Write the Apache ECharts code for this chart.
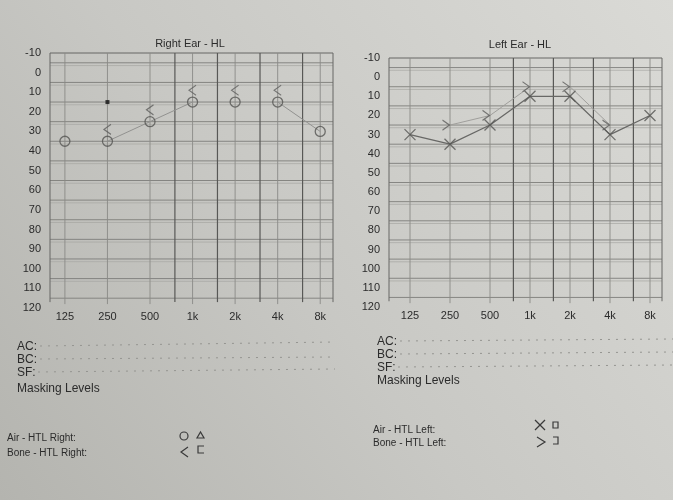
<!DOCTYPE html>
<html><head><meta charset="utf-8">
<script src="https://cdn.jsdelivr.net/npm/echarts@6/dist/echarts.min.js"></script>
<style>html,body{margin:0;padding:0;}#c{width:673px;height:500px;}</style>
</head><body><div id="c"></div>
<script>
// ---- data ----
const freqs = [125, 250, 500, 1000, 2000, 4000, 8000];
const freqLabels = ['125', '250', '500', '1k', '2k', '4k', '8k'];
const halfOctaveFreqs = [750, 1500, 3000, 6000];
const dbTicksMin = -10, dbTicksMax = 120, dbStep = 10;

const rightAir = [35, 35, 25, 15, 15, 15, 30];
const rightAirLinks = [[250, 500, 1000], [4000, 8000]];
const rightBoneFreqs = [250, 500, 1000, 2000, 4000];
const rightBone = [30, 20, 10, 10, 10];
const rightMarkFreqs = [250];
const rightMark = [15];

const leftAir = [30, 35, 25, 10, 10, 30, 20];
const leftAirLinks = [[125, 250, 500, 1000, 2000, 4000, 8000]];
const leftBoneFreqs = [250, 500, 1000, 2000, 4000];
const leftBone = [25, 20, 5, 5, 25];
const leftBoneLinks = [[250, 500, 1000], [2000, 4000]];

const titles = ['Right Ear - HL', 'Left Ear - HL'];

// ---- helpers ----
const oct = f => Math.log2(f / 125);
const pts = (fs, vs) => fs.map((f, i) => [oct(f), vs[i]]);
const FONT = '"Liberation Sans", Arial, sans-serif';
const INK = '#2b2b2b';

const layout = [
  { left: 50, top: 53, width: 283, height: 255, xmin: -0.35, xmax: 6.3 },
  { left: 389, top: 58, width: 273, height: 249, xmin: -0.525, xmax: 6.3 }
];

function gridLineData(L) {
  const d = [];
  d.push([L.xmin, -10, L.xmax, -10, 2]);
  for (let v = -5; v <= 115; v += 10) {
    d.push([L.xmin, v, L.xmax, v, 0]);
    if (v < 115) d.push([L.xmin, v + 1.4, L.xmax, v + 1.4, 3]);
  }
  d.push([L.xmin, -10, L.xmin, 117, 2]);
  d.push([L.xmax, -10, L.xmax, 117, 2]);
  freqs.forEach(f => d.push([oct(f), -10, oct(f), 118, 4]));
  halfOctaveFreqs.forEach(f => d.push([oct(f), -10, oct(f), 117, 1]));
  return d;
}
const lineStyles = [
  { stroke: '#7e7e7b', lineWidth: 0.9 },
  { stroke: '#585856', lineWidth: 1.2 },
  { stroke: '#666664', lineWidth: 1 },
  { stroke: '#a6a6a2', lineWidth: 0.7 },
  { stroke: '#8a8a87', lineWidth: 0.9 }
];

function gridSeries(i) {
  return {
    type: 'custom', xAxisIndex: i, yAxisIndex: i, silent: true, z: 1,
    data: gridLineData(layout[i]),
    renderItem: (params, api) => {
      const p1 = api.coord([api.value(0), api.value(1)]);
      const p2 = api.coord([api.value(2), api.value(3)]);
      return { type: 'line', shape: { x1: p1[0], y1: p1[1], x2: p2[0], y2: p2[1] },
        style: Object.assign({}, lineStyles[api.value(4)]) };
    }
  };
}

function linkSeries(i, fs, vs, links, color, width) {
  return links.map(seg => ({
    type: 'line', xAxisIndex: i, yAxisIndex: i, z: 3, symbol: 'none', silent: true,
    lineStyle: { color: color, width: width },
    data: seg.map(f => [oct(f), vs[fs.indexOf(f)]])
  }));
}

const X_PATH = 'path://M0,0L10,10M10,0L0,10';
const LT_PATH = 'path://M8,0L0,6L8,12';
const GT_PATH = 'path://M0,0L8,6L0,12';

const series = [
  gridSeries(0), gridSeries(1),
  ...linkSeries(0, freqs, rightAir, rightAirLinks, '#929290', 1),
  ...linkSeries(1, freqs, leftAir, leftAirLinks, '#686866', 1.3),
  ...linkSeries(1, leftBoneFreqs, leftBone, leftBoneLinks, '#a09f9c', 1),
  { type: 'scatter', xAxisIndex: 0, yAxisIndex: 0, z: 4, symbol: 'circle', symbolSize: 10,
    itemStyle: { color: 'rgba(0,0,0,0)', borderColor: '#555553', borderWidth: 1.3 },
    data: pts(freqs, rightAir) },
  { type: 'scatter', xAxisIndex: 0, yAxisIndex: 0, z: 4, symbol: LT_PATH, symbolSize: [7, 10],
    symbolOffset: [0, -2],
    itemStyle: { color: 'rgba(0,0,0,0)', borderColor: '#5e5e5c', borderWidth: 1.1 },
    data: pts(rightBoneFreqs, rightBone) },
  { type: 'scatter', xAxisIndex: 0, yAxisIndex: 0, z: 4, symbol: 'rect', symbolSize: 4,
    itemStyle: { color: '#111' }, data: pts(rightMarkFreqs, rightMark) },
  { type: 'scatter', xAxisIndex: 1, yAxisIndex: 1, z: 4, symbol: X_PATH, symbolSize: 11,
    itemStyle: { color: 'rgba(0,0,0,0)', borderColor: '#555553', borderWidth: 1.3 },
    data: pts(freqs, leftAir) },
  { type: 'scatter', xAxisIndex: 1, yAxisIndex: 1, z: 4, symbol: GT_PATH, symbolSize: [7, 10],
    symbolOffset: [-4, 0],
    itemStyle: { color: 'rgba(0,0,0,0)', borderColor: '#5e5e5c', borderWidth: 1.1 },
    data: pts(leftBoneFreqs, leftBone) }
];

const grids = layout.map(L => ({ left: L.left, top: L.top, width: L.width, height: L.height }));
const xAxes = layout.map((L, i) => ({
  type: 'value', gridIndex: i, min: L.xmin, max: L.xmax, splitNumber: 6,
  axisLine: { show: false }, axisTick: { show: false }, splitLine: { show: false },
  axisLabel: {
    margin: 3, color: INK, fontSize: 11, fontFamily: FONT,
    formatter: v => { const r = Math.round(v); return (Math.abs(v - r) < 1e-6 && r >= 0 && r < freqLabels.length) ? freqLabels[r] : ''; }
  }
}));
const yAxes = layout.map((L, i) => ({
  type: 'value', gridIndex: i, inverse: true, min: dbTicksMin, max: dbTicksMax, interval: dbStep,
  axisLine: { show: false }, axisTick: { show: false }, splitLine: { show: false },
  axisLabel: { margin: 9, color: INK, fontSize: 11, fontFamily: FONT }
}));

function txt(x, y, s, size, align) {
  return { type: 'text', x: x, y: y, silent: true, z: 10,
    style: { text: s, fill: INK, font: size + 'px ' + FONT, textAlign: align || 'left', textVerticalAlign: 'middle' } };
}
function dots(x1, y1, x2, y2) {
  return { type: 'line', silent: true, z: 9, shape: { x1: x1, y1: y1, x2: x2, y2: y2 },
    style: { stroke: '#959591', lineWidth: 1, lineDash: [2, 6] } };
}
function sym(points, closed) {
  return { type: closed ? 'polygon' : 'polyline', silent: true, z: 10, shape: { points: points },
    style: { stroke: '#3a3a3a', lineWidth: 1.2, fill: null } };
}

const graphic = [
  txt(190, 44, titles[0], 11, 'center'),
  txt(520, 45, titles[1], 11, 'center'),
  txt(17, 347, 'AC:', 12), txt(17, 360, 'BC:', 12), txt(17, 373, 'SF:', 12),
  txt(17, 389, 'Masking Levels', 12),
  dots(40, 346, 335, 342), dots(40, 359, 335, 357), dots(38, 372, 335, 369),
  txt(377, 342, 'AC:', 12), txt(377, 355, 'BC:', 12), txt(377, 368, 'SF:', 12),
  txt(377, 381, 'Masking Levels', 12),
  dots(400, 341, 673, 339), dots(400, 354, 673, 352), dots(398, 367, 673, 365),
  txt(7, 438, 'Air - HTL Right:', 10), txt(7, 453, 'Bone - HTL Right:', 10),
  txt(373, 430, 'Air - HTL Left:', 10), txt(373, 443, 'Bone - HTL Left:', 10),
  { type: 'circle', silent: true, z: 10, shape: { cx: 184, cy: 436, r: 4 }, style: { stroke: '#3a3a3a', lineWidth: 1.2, fill: null } },
  sym([[197, 438], [204, 438], [200.5, 432]], true),
  sym([[188, 447], [181, 452], [188, 457]]),
  sym([[204, 446], [198, 446], [198, 453], [204, 453]]),
  sym([[535, 420], [545, 430]]), sym([[545, 420], [535, 430]]),
  { type: 'rect', silent: true, z: 10, shape: { x: 553, y: 422, width: 5, height: 6 }, style: { stroke: '#3a3a3a', lineWidth: 1.2, fill: null } },
  sym([[537, 437], [545, 442], [537, 447]]),
  sym([[553, 437], [558, 437], [558, 444], [553, 444]])
];

const chart = echarts.init(document.getElementById('c'), null, { renderer: 'canvas' });
chart.setOption({
  animation: false,
  backgroundColor: {
    type: 'linear', x: 0, y: 1, x2: 1, y2: 0,
    colorStops: [{ offset: 0, color: '#b4b4af' }, { offset: 0.45, color: '#c8c8c4' }, { offset: 1, color: '#dadad6' }]
  },
  grid: grids, xAxis: xAxes, yAxis: yAxes, series: series, graphic: graphic
});
</script></body></html>
